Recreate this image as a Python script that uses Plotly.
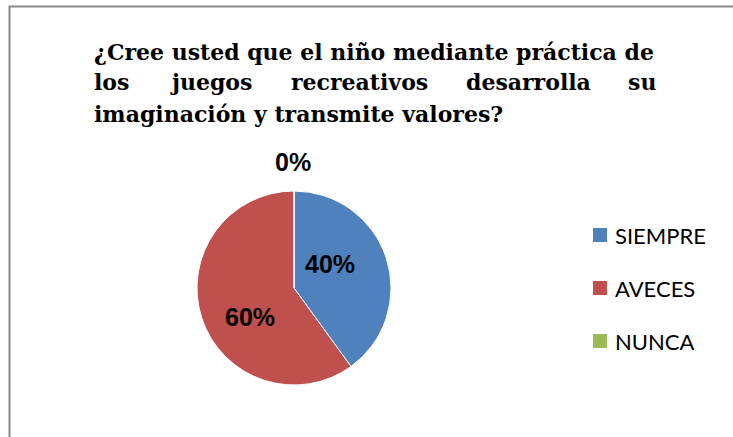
import plotly.graph_objects as go

# Survey answers
categories = ["SIEMPRE", "AVECES", "NUNCA"]
values = [40, 60, 0]
colors = ["#4F81BD", "#C0504D", "#9BBB59"]

title_line1 = "¿Cree usted que el niño mediante práctica de"
title_line2_words = ["los", "juegos", "recreativos", "desarrolla", "su"]
title_line3 = "imaginación y transmite valores?"

W, H = 733, 437


def px(x):
    return x / W


def py(y):
    return 1 - y / H


# pie geometry in pixels
cx, cy, r = 294, 288, 97

fig = go.Figure(
    go.Pie(
        labels=categories,
        values=values,
        marker=dict(colors=colors, line=dict(color="#FFFFFF", width=1)),
        sort=False,
        direction="clockwise",
        rotation=0,
        textinfo="none",
        hoverinfo="label+percent",
        showlegend=False,
        domain=dict(x=[px(cx - r), px(cx + r)], y=[py(cy + r), py(cy - r)]),
    )
)

annotations = []
serif = dict(family="DejaVu Serif", size=22, color="#000000", weight="bold")

# title, justified across three lines
annotations.append(dict(text=title_line1, x=px(92), y=py(52), xanchor="left",
                        yanchor="middle", showarrow=False, font=serif))
word_left = [92, 168, 289, 464, 626]
for w, xl in zip(title_line2_words, word_left):
    annotations.append(dict(text=w, x=px(xl), y=py(82), xanchor="left",
                            yanchor="middle", showarrow=False, font=serif))
annotations.append(dict(text=title_line3, x=px(92), y=py(114), xanchor="left",
                        yanchor="middle", showarrow=False, font=serif))

# percentage labels
total = sum(values)
label_pos = [(330, 264), (250, 317), (293, 162)]
lab_font = dict(family="Liberation Sans", size=25, color="#000000", weight="bold")
for v, (lx, ly) in zip(values, label_pos):
    annotations.append(dict(text="%d%%" % round(v / total * 100), x=px(lx), y=py(ly),
                            xanchor="center", yanchor="middle", showarrow=False, font=lab_font))

# legend
shapes = []
leg_y = [235, 288, 341]
leg_font = dict(family="Lato", size=22, color="#000000")
for name, col, ly in zip(categories, colors, leg_y):
    shapes.append(dict(type="rect", xref="paper", yref="paper",
                       x0=px(593), x1=px(607), y0=py(ly + 7), y1=py(ly - 7),
                       fillcolor=col, line=dict(width=0)))
    annotations.append(dict(text=name, x=px(613), y=py(ly), xanchor="left", yanchor="middle",
                            showarrow=False, font=leg_font))

# chart frame (top and left edges visible)
shapes.append(dict(type="path", xref="paper", yref="paper",
                   path="M %f,%f L %f,%f L %f,%f" % (px(9.5), py(440), px(9.5), py(6.5), px(740), py(6.5)),
                   line=dict(color="#8A8A8A", width=2)))

fig.update_layout(
    width=W,
    height=H,
    margin=dict(l=0, r=0, t=0, b=0),
    paper_bgcolor="#FFFFFF",
    plot_bgcolor="#FFFFFF",
    annotations=annotations,
    shapes=shapes,
)

fig.write_html("out.html")
